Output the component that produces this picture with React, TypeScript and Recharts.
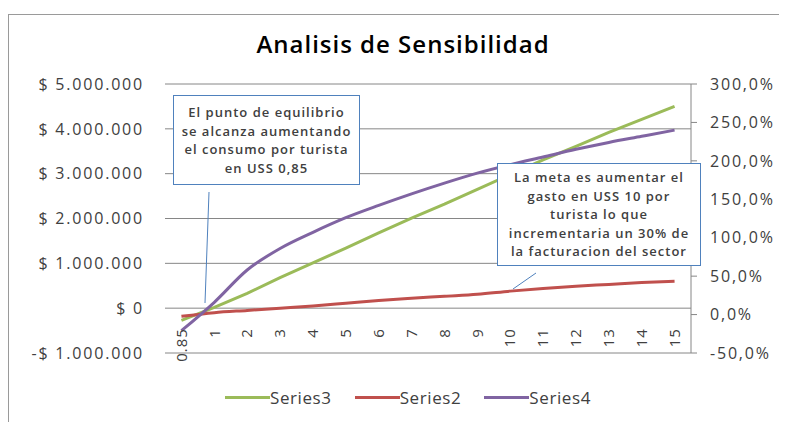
import React from 'react';
import { LineChart, Line, XAxis, YAxis, CartesianGrid, Legend } from 'recharts';

// valores
const categories = ['0.85', '1', '2', '3', '4', '5', '6', '7', '8', '9', '10', '11', '12', '13', '14', '15'];
const series3 = [-270000, 20000, 330000, 680000, 1010000, 1340000, 1680000, 2010000, 2320000, 2650000, 2980000, 3310000, 3610000, 3920000, 4210000, 4500000];
const series2 = [-180000, -100000, -50000, 0, 50000, 110000, 170000, 220000, 265000, 310000, 380000, 440000, 490000, 530000, 570000, 600000];
const series4 = [-21, 16, 58, 86, 107, 126, 142, 157, 171, 184, 195, 205, 215, 224, 232, 240];
const leftTicks = [-1000000, 0, 1000000, 2000000, 3000000, 4000000, 5000000];
const rightTicks = [-50, 0, 50, 100, 150, 200, 250, 300];

const data = categories.map((cat, i) => ({
  cat,
  Series3: series3[i],
  Series2: series2[i],
  Series4: series4[i],
}));

const W = 778;
const H = 407;
const M = { top: 69, right: 16, left: 0, bottom: 39 };
const X_AXIS_H = 30;
const PLOT_H = H - M.top - M.bottom - X_AXIS_H;
const FONT = '"Open Sans", sans-serif';
const TXT = '#404040';
const GRID = '#868686';
const BLUE = '#4F81BD';

const fmtMoney = (v: number) => {
  const s = Math.abs(v).toString().replace(/\B(?=(\d{3})+(?!\d))/g, '.');
  return (v < 0 ? '-$ ' : '$ ') + s;
};
const fmtPct = (v: number) => v.toFixed(1).replace('.', ',') + '%';

// etiquetas del eje X junto a la linea del cero
const XTick = ({ x, y, payload }: any) => {
  const ty = y - PLOT_H / 6 + 20;
  return (
    <text
      x={x}
      y={ty}
      transform={`rotate(-90 ${x} ${ty})`}
      textAnchor="end"
      dy="0.35em"
      fill={TXT}
      fontSize={15}
      fontFamily={FONT}
      letterSpacing={1}
    >
      {payload.value}
    </text>
  );
};

const legendItems = [
  { name: 'Series3', color: '#9BBB59' },
  { name: 'Series2', color: '#C0504D' },
  { name: 'Series4', color: '#8064A2' },
];

const LegendBox = () => (
  <div style={{ display: 'flex', justifyContent: 'center', alignItems: 'center', paddingLeft: 20, gap: 23, fontFamily: FONT, fontSize: 17, color: TXT }}>
    {legendItems.map((it) => (
      <div key={it.name} style={{ display: 'flex', alignItems: 'center' }}>
        <span style={{ display: 'inline-block', width: 45, height: 3, background: it.color }} />
        <span style={{ letterSpacing: 0.6 }}>{it.name}</span>
      </div>
    ))}
  </div>
);

const boxStyle: React.CSSProperties = {
  position: 'absolute',
  background: '#fff',
  border: `1.5px solid ${BLUE}`,
  boxSizing: 'border-box',
  display: 'flex',
  alignItems: 'center',
  justifyContent: 'center',
  textAlign: 'center',
  fontFamily: FONT,
  fontSize: 13,
  fontWeight: 600,
  lineHeight: '18.5px',
  letterSpacing: 1,
  whiteSpace: 'nowrap',
  color: TXT,
};

export default function App() {
  return (
    <div
      style={{
        position: 'relative',
        marginTop: 6,
        width: W + 1,
        height: H + 1,
        borderTop: '1px solid #9a9a9a',
        borderLeft: '1px solid #9a9a9a',
        background: '#fff',
        overflow: 'hidden',
      }}
    >
      <div style={{ position: 'absolute', top: 12, left: 0, width: W, paddingLeft: 10, boxSizing: 'border-box', textAlign: 'center', fontFamily: FONT, fontSize: 24, fontWeight: 600, color: '#000', letterSpacing: 1 }}>
        Analisis de Sensibilidad
      </div>
      <LineChart width={W} height={H} data={data} margin={M}>
        <CartesianGrid yAxisId="left" vertical={false} stroke={GRID} strokeWidth={1} />
        <XAxis
          dataKey="cat"
          scale="band"
          interval={0}
          height={X_AXIS_H}
          axisLine={false}
          tickLine={false}
          tickSize={0}
          tickMargin={0}
          tick={<XTick />}
        />
        <YAxis
          yAxisId="left"
          width={156}
          domain={[-1000000, 5000000]}
          ticks={leftTicks}
          tickFormatter={fmtMoney}
          axisLine={false}
          tickLine={false}
          tickSize={0}
          tickMargin={21}
          tick={{ fill: TXT, fontSize: 16, fontFamily: FONT, letterSpacing: 1.8 }}
        />
        <YAxis
          yAxisId="right"
          orientation="right"
          width={80}
          domain={[-50, 300]}
          ticks={rightTicks}
          tickFormatter={fmtPct}
          axisLine={{ stroke: GRID }}
          tickLine={{ stroke: GRID }}
          tickSize={6}
          tickMargin={13}
          tick={{ fill: TXT, fontSize: 16, fontFamily: FONT, letterSpacing: 1.8, textAnchor: 'start' }}
        />
        <Line yAxisId="left" type="linear" dataKey="Series3" stroke="#9BBB59" strokeWidth={3} dot={false} isAnimationActive={false} />
        <Line yAxisId="left" type="monotone" dataKey="Series2" stroke="#C0504D" strokeWidth={3} dot={false} isAnimationActive={false} />
        <Line yAxisId="right" type="monotone" dataKey="Series4" stroke="#8064A2" strokeWidth={3} dot={false} isAnimationActive={false} />
        <Legend
          verticalAlign="middle"
          align="center"
          layout="horizontal"
          content={<LegendBox />}
          wrapperStyle={{ top: 371, left: 0, width: W, height: 23 }}
        />
      </LineChart>
      {/* lineas de los comentarios */}
      <svg width={W} height={H} style={{ position: 'absolute', left: 0, top: 0, pointerEvents: 'none' }}>
        <line x1={200} y1={177} x2={196} y2={288} stroke={BLUE} strokeWidth={1} />
        <line x1={527} y1={258} x2={504} y2={274} stroke={BLUE} strokeWidth={1} />
      </svg>
      <div style={{ ...boxStyle, left: 164, top: 80, width: 187, height: 90 }}>
        <div>
          El punto de equilibrio<br />se alcanza aumentando<br />el consumo por turista<br />en USS 0,85
        </div>
      </div>
      <div style={{ ...boxStyle, left: 488, top: 148, width: 204, height: 103 }}>
        <div>
          La meta es aumentar el<br />gasto en USS 10 por<br />turista lo que<br />incrementaria un 30% de<br />la facturacion del sector
        </div>
      </div>
    </div>
  );
}
